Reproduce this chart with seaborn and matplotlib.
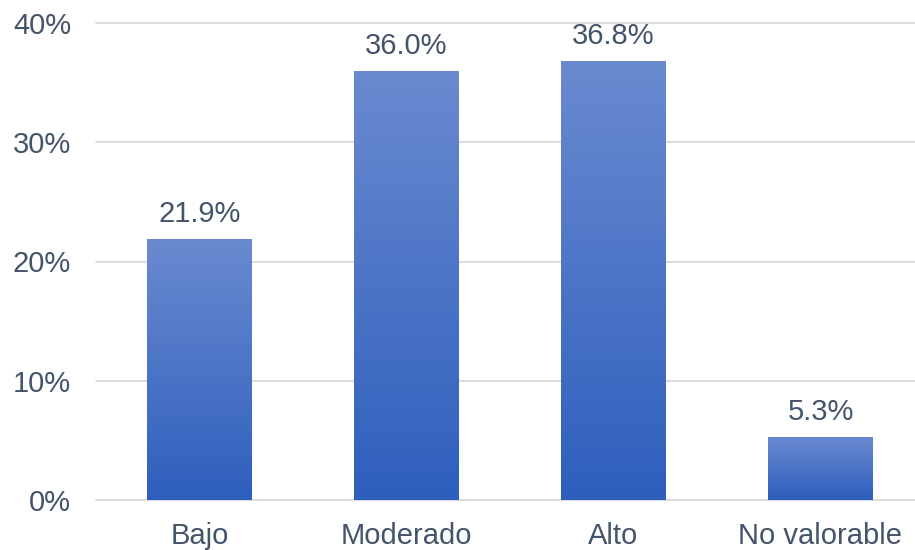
import numpy as np
import pandas as pd
import matplotlib
matplotlib.use("Agg")
import matplotlib.pyplot as plt
import seaborn as sns
from matplotlib.colors import LinearSegmentedColormap

categories = ["Bajo", "Moderado", "Alto", "No valorable"]
values = [0.219, 0.360, 0.368, 0.053]
labels = ["21.9%", "36.0%", "36.8%", "5.3%"]
yticks = [0.0, 0.1, 0.2, 0.3, 0.4]
ytick_labels = ["0%", "10%", "20%", "30%", "40%"]

sns.set_theme(style="white")
plt.rcParams['font.family'] = ['Liberation Sans', 'DejaVu Sans']

text_color = "#44546A"
grid_color = "#D9D9D9"
top_col = "#6A8AD0"
bot_col = "#2E5FBD"

fig = plt.figure(figsize=(9.15, 5.5), dpi=100)
ax = fig.add_axes([96/915, 50/550, 828/915, 477/550])

df = pd.DataFrame({"cat": categories, "val": values})
sns.barplot(data=df, x="cat", y="val", color=bot_col, width=0.505, ax=ax, zorder=3)

ax.set_xlim(-0.5, 3.5)
ax.set_ylim(0, 0.4)

cmap = LinearSegmentedColormap.from_list("g", [bot_col, top_col])
grad = np.linspace(0, 1, 256).reshape(-1, 1)
for p in ax.patches:
    x0, y0 = p.get_x(), p.get_y()
    w, h = p.get_width(), p.get_height()
    im = ax.imshow(grad, cmap=cmap, origin="lower", aspect="auto",
                   extent=[x0, x0 + w, y0, y0 + h], zorder=4)
    im.set_clip_path(p)
    p.set_edgecolor("none")

ax.set_xlim(-0.5, 3.5)
ax.set_ylim(0, 0.4)

for p, lab in zip(ax.patches, labels):
    ax.annotate(lab, (p.get_x() + p.get_width() / 2, p.get_height()),
                xytext=(0, 8), textcoords="offset points",
                ha="center", va="bottom", fontsize=21, color=text_color, zorder=5)

ax.set_yticks(yticks)
ax.set_yticklabels(ytick_labels)
for y in yticks:
    ax.axhline(y, color=grid_color, lw=1.3, zorder=1, clip_on=False)

ax.tick_params(axis="y", length=0, pad=18, labelsize=21, labelcolor=text_color)
ax.tick_params(axis="x", length=0, pad=16, labelsize=21, labelcolor=text_color)
ax.set_xlabel("")
ax.set_ylabel("")
for s in ax.spines.values():
    s.set_visible(False)

fig.savefig("out.png", dpi=100)
